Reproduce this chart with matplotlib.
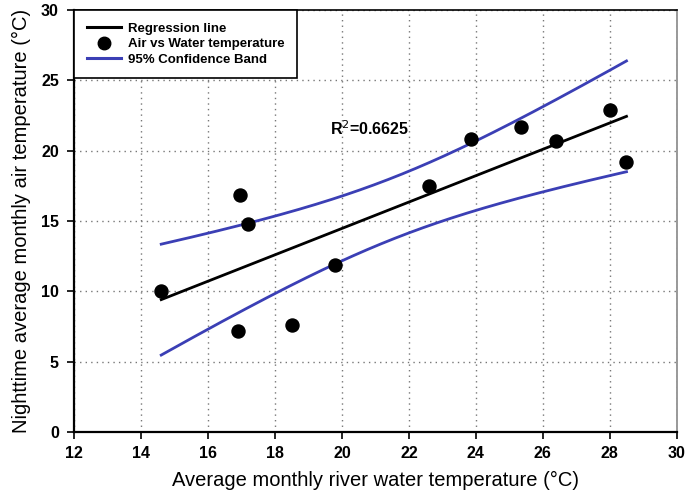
import numpy as np
import matplotlib
matplotlib.use("Agg")
import matplotlib.pyplot as plt
from matplotlib.lines import Line2D

plt.rcParams['font.family'] = ['Liberation Sans', 'DejaVu Sans']

# Average monthly river water temperature (°C) and nighttime average monthly air temperature (°C)
water_temp = [14.6, 16.95, 17.2, 16.9, 18.5, 19.8, 22.6, 23.85, 25.35, 26.4, 28.0, 28.5]
air_temp = [10.0, 16.85, 14.8, 7.2, 7.6, 11.9, 17.5, 20.8, 21.7, 20.7, 22.9, 19.2]
r2_label = "R$^2$=0.6625"
x_ticks = [12, 14, 16, 18, 20, 22, 24, 26, 28, 30]
y_ticks = [0, 5, 10, 15, 20, 25, 30]
t_crit = 2.228  # two-sided 95%, df = n - 2 = 10

x = np.array(water_temp)
y = np.array(air_temp)
n = len(x)
slope, intercept = np.polyfit(x, y, 1)
resid = y - (slope * x + intercept)
s = np.sqrt(np.sum(resid ** 2) / (n - 2))
sxx = np.sum((x - x.mean()) ** 2)
xs = np.linspace(x.min(), x.max(), 200)
fit = slope * xs + intercept
half = t_crit * s * np.sqrt(1.0 / n + (xs - x.mean()) ** 2 / sxx)

fig = plt.figure(figsize=(6.87, 5.0), dpi=100)
ax = fig.add_axes([0.108, 0.136, 0.877, 0.844])

blue = '#3b3fb5'
ax.plot(xs, fit, color='black', lw=2.0, zorder=3)
ax.plot(xs, fit + half, color=blue, lw=2.0, zorder=3)
ax.plot(xs, fit - half, color=blue, lw=2.0, zorder=3)
ax.scatter(x, y, s=88, color='black', zorder=4)

ax.text(19.65, 21.1, r2_label, fontsize=11.5, fontweight='bold')

ax.set_xlim(12, 30)
ax.set_ylim(0, 30)
ax.set_xticks(x_ticks)
ax.set_yticks(y_ticks)
ax.tick_params(axis='both', labelsize=11.5, direction='out', length=5, width=1.2)
ax.tick_params(axis='y', pad=6)
ax.tick_params(axis='x', pad=5)
for lab in ax.get_xticklabels() + ax.get_yticklabels():
    lab.set_fontweight('bold')
ax.grid(True, linestyle=(0, (1, 3)), color='#777777', lw=1.0)
ax.set_axisbelow(True)

for side in ['left', 'bottom']:
    ax.spines[side].set_linewidth(1.6)
ax.spines['top'].set_linewidth(1.2)
ax.spines['right'].set_linewidth(1.2)
ax.spines['right'].set_color('#888888')

ax.set_xlabel('Average monthly river water temperature (°C)', fontsize=14.5, labelpad=7)
ax.set_ylabel('Nighttime average monthly air temperature (°C)', fontsize=14.5, labelpad=7)

handles = [
    Line2D([], [], color='black', lw=2.2),
    Line2D([], [], color='black', marker='o', ls='none', markersize=9),
    Line2D([], [], color=blue, lw=2.2),
]
labels = ['Regression line', 'Air vs Water temperature', '95% Confidence Band']
leg = ax.legend(handles, labels, loc='upper left', bbox_to_anchor=(0, 1),
                borderaxespad=0, fancybox=False, framealpha=1, edgecolor='black',
                prop={'weight': 'bold', 'size': 9.5}, handlelength=2.6,
                labelspacing=0.25, borderpad=0.95, handletextpad=0.5)
leg.get_frame().set_linewidth(1.2)

fig.savefig('out.png', dpi=100)
